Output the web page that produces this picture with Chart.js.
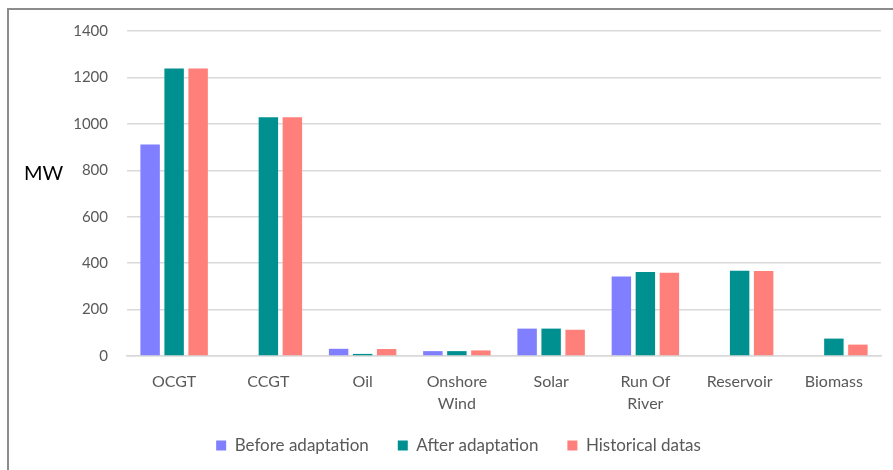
<!DOCTYPE html>
<html>
<head>
<meta charset="utf-8">
<script src="https://cdn.jsdelivr.net/npm/chart.js@4/dist/chart.umd.min.js"></script>
<style>
  html, body { margin: 0; padding: 0; background: #fff; }
  #wrap { width: 893px; height: 470px; position: relative; }
</style>
</head>
<body>
<div id="wrap"><canvas id="c" width="893" height="470"></canvas></div>
<script>
// Installed capacity per technology (MW)
const categories = ['OCGT', 'CCGT', 'Oil', ['Onshore', 'Wind'], 'Solar', ['Run Of', 'River'], 'Reservoir', 'Biomass'];
const beforeAdaptation = [911, null, 31, 21, 118, 342, null, null];
const afterAdaptation = [1239, 1028, 9, 21, 118, 362, 367, 75];
const historicalDatas = [1239, 1028, 30, 24, 113, 359, 366, 49];
const yTicks = [0, 200, 400, 600, 800, 1000, 1200, 1400];

const FONT = 'Lato, "Open Sans", sans-serif';
const TEXT = '#595959';

// Outer frame, the unrotated unit label, and the legend nudged under the plot
const decorations = {
  id: 'decorations',
  afterLayout(chart) {
    const lg = chart.legend;
    if (lg) {
      lg.top -= 6; lg.bottom -= 6;
      lg.left += 18; lg.right += 18;
    }
  },
  beforeDraw(chart) {
    const ctx = chart.ctx;
    ctx.save();
    ctx.strokeStyle = '#8c8c8c';
    ctx.lineWidth = 2;
    ctx.beginPath();
    ctx.moveTo(8, chart.height);
    ctx.lineTo(8, 9);
    ctx.lineTo(chart.width, 9);
    ctx.stroke();
    ctx.restore();
  },
  afterDraw(chart) {
    const ctx = chart.ctx;
    const y = chart.scales.y;
    ctx.save();
    ctx.fillStyle = '#000';
    ctx.font = '20px ' + FONT;
    ctx.textAlign = 'left';
    ctx.textBaseline = 'middle';
    ctx.fillText('MW', 24, y.getPixelForValue(800) + 3);
    ctx.restore();
  }
};

new Chart(document.getElementById('c'), {
  type: 'bar',
  data: {
    labels: categories,
    datasets: [
      { label: 'Before adaptation', data: beforeAdaptation, backgroundColor: '#7f7fff' },
      { label: 'After adaptation', data: afterAdaptation, backgroundColor: '#009090' },
      { label: 'Historical datas', data: historicalDatas, backgroundColor: '#ff7f7a' }
    ]
  },
  options: {
    responsive: false,
    animation: false,
    devicePixelRatio: 1,
    layout: { padding: { top: 31, right: 12, bottom: 0, left: 0 } },
    datasets: { bar: { categoryPercentage: 0.764, barPercentage: 0.81 } },
    scales: {
      x: {
        afterFit(scale) { scale.height = 58; },
        grid: { display: false, drawTicks: false },
        border: { display: true, color: '#d9d9d9', width: 1.5 },
        ticks: { color: TEXT, font: { family: FONT, size: 16, lineHeight: 1.35 }, padding: 15, maxRotation: 0, autoSkip: false }
      },
      y: {
        min: 0, max: 1400,
        afterBuildTicks(scale) { scale.ticks = yTicks.map(v => ({ value: v })); },
        afterFit(scale) { scale.width = 127; },
        grid: { color: '#d9d9d9', lineWidth: 1.5, drawTicks: false },
        border: { display: false },
        ticks: { color: TEXT, font: { family: FONT, size: 15 }, padding: 19, callback: v => String(v) }
      }
    },
    plugins: {
      legend: {
        position: 'bottom',
        labels: { color: TEXT, font: { family: FONT, size: 17 }, boxWidth: 10, boxHeight: 10, padding: 29 }
      },
      tooltip: { enabled: false }
    }
  },
  plugins: [decorations]
});
</script>
</body>
</html>
